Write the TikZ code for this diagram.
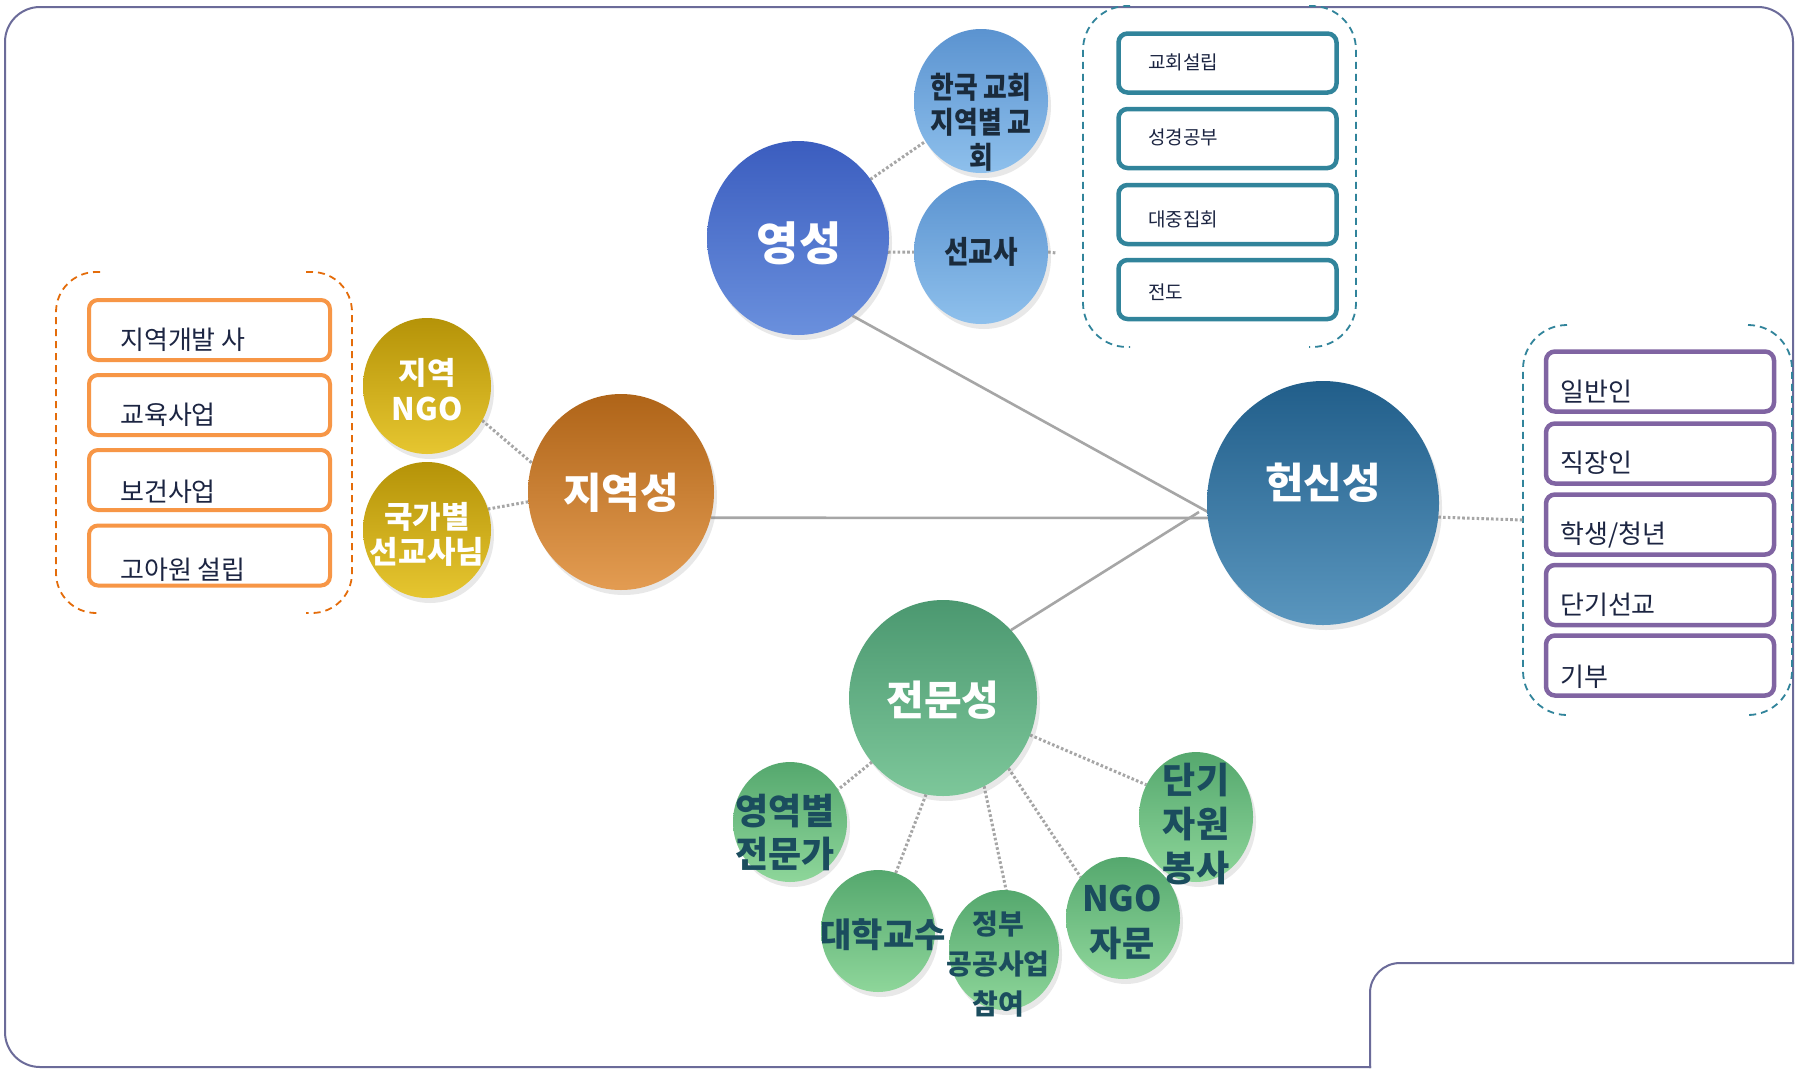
\documentclass[tikz,border=0pt]{standalone}
\usepackage{fontspec}
\newfontfamily\kr{Noto Sans CJK KR}
\newfontfamily\krc[FakeStretch=0.86]{Noto Sans CJK KR}
\usetikzlibrary{shapes.geometric,shadows}
\pgfdeclarelayer{bg}
\pgfsetlayers{bg,main}
\definecolor{framec}{HTML}{6B6B99}
\definecolor{linegray}{HTML}{A6A6A6}
\definecolor{tealc}{HTML}{31849B}
\definecolor{orangec}{HTML}{F79646}
\definecolor{orangedash}{HTML}{E46C0A}
\definecolor{purplec}{HTML}{8064A2}
\definecolor{navytxt}{HTML}{1C2542}
\definecolor{bluetxt}{HTML}{1A2B3C}
\definecolor{greentxt}{HTML}{1B4D5E}
\begin{document}
\begin{tikzpicture}[x=1pt,y=-1pt,
  ell/.style={ellipse, inner sep=0pt, outer sep=0pt, draw=none,
    drop shadow={opacity=0.18, shadow xshift=3pt, shadow yshift=-5pt}},
  yeongc/.style={ell, top color={rgb,255:red,59;green,93;blue,191}, bottom color={rgb,255:red,106;green,144;blue,221}},
  lblue/.style={ell, top color={rgb,255:red,91;green,147;blue,208}, bottom color={rgb,255:red,142;green,192;blue,236}},
  jiyeokc/.style={ell, top color={rgb,255:red,175;green,100;blue,24}, bottom color={rgb,255:red,227;green,156;blue,82}},
  yellowc/.style={ell, top color={rgb,255:red,181;green,147;blue,8}, bottom color={rgb,255:red,230;green,198;blue,48}},
  heonsinc/.style={ell, top color={rgb,255:red,33;green,94;blue,138}, bottom color={rgb,255:red,90;green,150;blue,190}},
  jeonmunc/.style={ell, top color={rgb,255:red,75;green,152;blue,112}, bottom color={rgb,255:red,125;green,199;blue,154}},
  lgreen/.style={ell, top color={rgb,255:red,85;green,168;blue,110}, bottom color={rgb,255:red,142;green,214;blue,154}},
  maintxt/.style={text=white, inner sep=0pt, align=center},
  bluetext/.style={text=bluetxt, inner sep=0pt, align=center},
  greentext/.style={text=greentxt, inner sep=0pt, align=center},
  mainline/.style={draw=linegray, line width=2.6pt},
  dotline/.style={draw=linegray, line width=3pt, dash pattern=on 2.6pt off 2.2pt},
  tealbox/.style={draw=tealc, line width=4.5pt, rounded corners=9pt, fill=white, minimum width=218pt, minimum height=59pt, inner sep=0pt},
  orangebox/.style={draw=orangec, line width=4pt, rounded corners=9pt, fill=white, minimum width=241pt, minimum height=60pt, inner sep=0pt},
  purplebox/.style={draw=purplec, line width=4.5pt, rounded corners=9pt, fill=white, minimum width=228pt, minimum height=60pt, inner sep=0pt},
  boxtxt/.style={text=navytxt, inner sep=0pt, anchor=west},
  contorange/.style={draw=orangedash, line width=1.8pt, dash pattern=on 7pt off 5pt, rounded corners=40pt},
  contteal/.style={draw=tealc, line width=1.8pt, dash pattern=on 7pt off 5pt, rounded corners=44pt},
  framestyle/.style={draw=framec, line width=2pt, line cap=rect}
]
\useasboundingbox (0,0) rectangle (1801,1074);

% ---------- ellipses ----------
\node[yeongc, minimum width=182pt, minimum height=194pt] (yeong) at (798,238) {};
\node[lblue, minimum width=134pt, minimum height=144pt] (hanguk) at (981,101) {};
\node[lblue, minimum width=134pt, minimum height=144pt] (seongyosa) at (981,252) {};
\node[yellowc, minimum width=128pt, minimum height=136pt] (ngo) at (427,386) {};
\node[yellowc, minimum width=128pt, minimum height=136pt] (gukga) at (427,530) {};
\node[jiyeokc, minimum width=186pt, minimum height=196pt] (jiyeok) at (621,492) {};
\node[heonsinc, minimum width=232pt, minimum height=244pt] (heonsin) at (1323,503) {};
\node[jeonmunc, minimum width=188pt, minimum height=196pt] (jeonmun) at (943,698) {};
\node[lgreen, minimum width=114pt, minimum height=120pt] (youngyeok) at (790,822) {};
\node[lgreen, minimum width=114pt, minimum height=122pt] (daehak) at (878,931) {};
\node[lgreen, minimum width=110pt, minimum height=120pt] (jeongbu) at (1004,950) {};
\node[lgreen, minimum width=114pt, minimum height=122pt] (ngojamun) at (1123,918) {};
\node[lgreen, minimum width=114pt, minimum height=130pt] (dangi) at (1196,817) {};

% ---------- ellipse texts ----------
\node[maintxt, font={\kr\bfseries\fontsize{46}{52}\selectfont}] (t-yeong) at (799,243) {영성};
\node[maintxt, font={\kr\bfseries\fontsize{42}{48}\selectfont}] (t-jiyeok) at (621,493) {지역성};
\node[maintxt, font={\kr\bfseries\fontsize{41}{48}\selectfont}] (t-jeonmun) at (943,700) {전문성};
\node[maintxt, font={\kr\bfseries\fontsize{42}{48}\selectfont}] (t-heonsin) at (1323,483) {헌신성};
\node[bluetext, font={\krc\bfseries\fontsize{30}{35}\selectfont}] (t-hanguk) at (981,122) {한국 교회\\지역별 교\\회};
\node[bluetext, font={\krc\bfseries\fontsize{31}{36}\selectfont}] (t-seongyosa) at (981,252) {선교사};
\node[maintxt, font={\kr\bfseries\fontsize{31}{36}\selectfont}] (t-ngo) at (427,390) {지역\\NGO};
\node[maintxt, font={\kr\bfseries\fontsize{31}{35}\selectfont}] (t-gukga) at (427,534) {국가별\\선교사님};
\node[greentext, font={\kr\bfseries\fontsize{36}{43}\selectfont}] (t-youngyeok) at (785,832) {영역별\\전문가};
\node[greentext, font={\kr\bfseries\fontsize{34}{40}\selectfont}] (t-daehak) at (883,935) {대학교수};
\node[greentext, font={\kr\bfseries\fontsize{28}{40}\selectfont}] (t-jeongbu) at (998,964) {정부\\공공사업\\참여};
\node[greentext, font={\kr\bfseries\fontsize{35}{45}\selectfont}] (t-ngojamun) at (1122,922) {NGO\\자문};
\node[greentext, font={\kr\bfseries\fontsize{36}{44}\selectfont}] (t-dangi) at (1196,824) {단기\\자원\\봉사};

% ---------- teal boxes ----------
\node[tealbox] (tb1) at (1227.5,63) {};
\node[tealbox] (tb2) at (1227.5,138.5) {};
\node[tealbox] (tb3) at (1227.5,214.5) {};
\node[tealbox] (tb4) at (1227.5,289.5) {};
\node[boxtxt, font={\kr\fontsize{19}{22}\selectfont}] (tt1) at (1148,62) {교회설립};
\node[boxtxt, font={\kr\fontsize{19}{22}\selectfont}] (tt2) at (1148,137) {성경공부};
\node[boxtxt, font={\kr\fontsize{19}{22}\selectfont}] (tt3) at (1148,219) {대중집회};
\node[boxtxt, font={\kr\fontsize{19}{22}\selectfont}] (tt4) at (1148,292) {전도};

% ---------- orange boxes ----------
\node[orangebox] (ob1) at (209.5,330) {};
\node[orangebox] (ob2) at (209.5,405) {};
\node[orangebox] (ob3) at (209.5,480) {};
\node[orangebox] (ob4) at (209.5,555.5) {};
\node[boxtxt, font={\kr\fontsize{26}{30}\selectfont}] (ot1) at (120,340) {지역개발 사};
\node[boxtxt, font={\kr\fontsize{26}{30}\selectfont}] (ot2) at (120,415) {교육사업};
\node[boxtxt, font={\kr\fontsize{26}{30}\selectfont}] (ot3) at (120,492) {보건사업};
\node[boxtxt, font={\kr\fontsize{26}{30}\selectfont}] (ot4) at (120,570) {고아원 설립};

% ---------- purple boxes ----------
\node[purplebox] (pb1) at (1660,381.5) {};
\node[purplebox] (pb2) at (1660,453.5) {};
\node[purplebox] (pb3) at (1660,524.5) {};
\node[purplebox] (pb4) at (1660,595) {};
\node[purplebox] (pb5) at (1660,665.5) {};
\node[boxtxt, font={\kr\fontsize{26}{30}\selectfont}] (pt1) at (1560,392) {일반인};
\node[boxtxt, font={\kr\fontsize{26}{30}\selectfont}] (pt2) at (1560,463) {직장인};
\node[boxtxt, font={\kr\fontsize{26}{30}\selectfont}] (pt3) at (1560,535) {학생/청년};
\node[boxtxt, font={\kr\fontsize{26}{30}\selectfont}] (pt4) at (1560,605) {단기선교};
\node[boxtxt, font={\kr\fontsize{26}{30}\selectfont}] (pt5) at (1560,677) {기부};

% ---------- free connector ends ----------
\coordinate (hub) at (1208,512);
\coordinate (hubH) at (1208,518);
\coordinate (hubJ) at (1199,512);
\coordinate (sgEnd) at (1056,253);
\coordinate (purpEnd) at (1523,520);

\begin{pgfonlayer}{bg}
  \fill[white] (0,0) rectangle (1801,1074);
  % frame
  \draw[framestyle, rounded corners=35pt] (1370,1067) -- (5,1067) -- (5,7) -- (1793,7) -- (1793,963);
  \draw[framestyle, rounded corners=30pt] (1793,963) -- (1370,963) -- (1370,1067);
  % dashed containers
  \draw[contorange] (100,272) -- (56,272) -- (56,613) -- (100,613);
  \draw[contorange] (306,272) -- (352,272) -- (352,613) -- (306,613);
  \draw[contteal] (1130,6) -- (1083,6) -- (1083,347) -- (1130,347);
  \draw[contteal] (1309,6) -- (1356,6) -- (1356,347) -- (1309,347);
  \draw[contteal] (1567,325) -- (1523,325) -- (1523,715) -- (1567,715);
  \draw[contteal] (1748,325) -- (1792,325) -- (1792,715) -- (1748,715);
  % solid connectors
  \draw[mainline] (yeong.-55) -- (hub);
  \draw[mainline] (jiyeok.-16) -- (hubH);
  \draw[mainline] (jeonmun.45) -- (hubJ);
  % dotted connectors
  \draw[dotline] (yeong.39) -- (hanguk.-144);
  \draw[dotline] (yeong.-9) -- (seongyosa.180);
  \draw[dotline] (seongyosa.0) -- (sgEnd);
  \draw[dotline] (ngo.-32) -- (jiyeok.162);
  \draw[dotline] (gukga.19) -- (jiyeok.186);
  \draw[dotline] (heonsin.-7) -- (purpEnd);
  \draw[dotline] (jeonmun.-138) -- (youngyeok.34);
  \draw[dotline] (jeonmun.260) -- (daehak.73);
  \draw[dotline] (jeonmun.-65) -- (jeongbu.88);
  \draw[dotline] (jeonmun.-47) -- (ngojamun.136);
  \draw[dotline] (jeonmun.-23) -- (dangi.147);
\end{pgfonlayer}
\end{tikzpicture}
\end{document}
